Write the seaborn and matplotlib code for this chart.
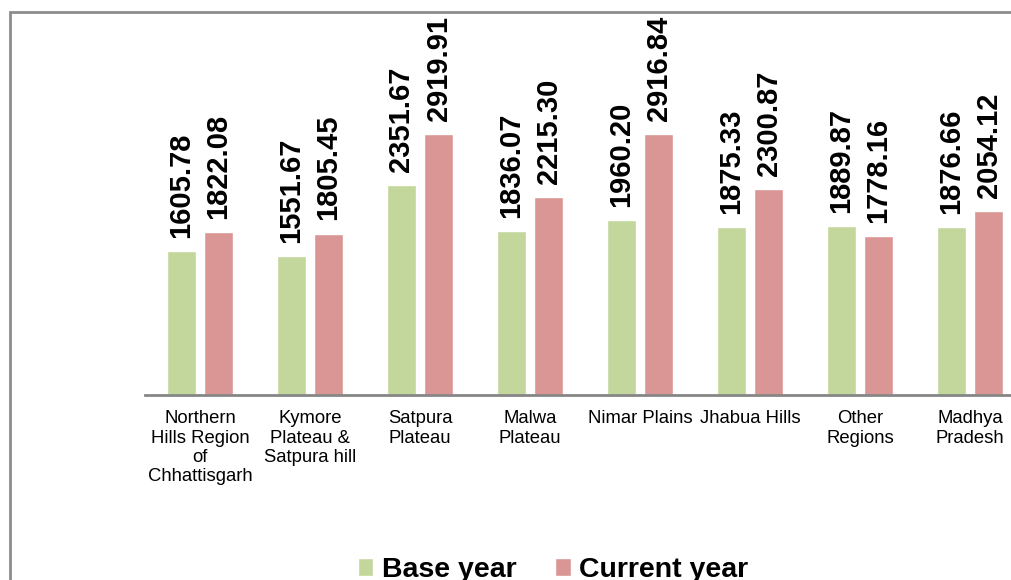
import matplotlib
matplotlib.use("Agg")
import matplotlib.pyplot as plt
from matplotlib.patches import Rectangle
import seaborn as sns
import pandas as pd

regions = [
    "Northern\nHills Region\nof\nChhattisgarh",
    "Kymore\nPlateau &\nSatpura hill",
    "Satpura\nPlateau",
    "Malwa\nPlateau",
    "Nimar Plains",
    "Jhabua Hills",
    "Other\nRegions",
    "Madhya\nPradesh",
]
base_year = [1605.78, 1551.67, 2351.67, 1836.07, 1960.20, 1875.33, 1889.87, 1876.66]
current_year = [1822.08, 1805.45, 2919.91, 2215.30, 2916.84, 2300.87, 1778.16, 2054.12]
series_names = ["Base year", "Current year"]
colors = ["#c3d69b", "#d99694"]

df = pd.DataFrame({
    "Region": regions * 2,
    "Series": [series_names[0]] * len(regions) + [series_names[1]] * len(regions),
    "Value": base_year + current_year,
})

sns.set_theme(style="white")
plt.rcParams["font.family"] = ["Liberation Sans", "DejaVu Sans"]
plt.rcParams["text.color"] = "black"

fig = plt.figure(figsize=(10.11, 5.8), dpi=100)
ax = fig.add_axes([145 / 1011, 1 - 395 / 580, 880 / 1011, 350 / 580])

sns.barplot(data=df, x="Region", y="Value", hue="Series", order=regions,
            hue_order=series_names, palette=colors, width=0.673, gap=0.214,
            saturation=1, ax=ax, legend=True)

for container in ax.containers:
    ax.bar_label(container, fmt="%.2f", rotation=90, padding=9.5,
                 fontsize=21, fontweight="bold", color="black")

ax.set_xlim(-0.5, 7.5)
ax.set_ylim(0, 3915)
ax.set_xlabel("")
ax.set_ylabel("")
ax.set_yticks([])
for side in ["left", "right", "top"]:
    ax.spines[side].set_visible(False)
ax.spines["bottom"].set_color("#868686")
ax.spines["bottom"].set_linewidth(2)
ax.tick_params(axis="x", length=0, pad=11)
for lbl in ax.get_xticklabels():
    lbl.set_fontsize(13.3)
    lbl.set_linespacing(1.18)
    lbl.set_color("black")

handles, labels = ax.get_legend_handles_labels()
ax.get_legend().remove()
leg = fig.legend(handles, labels, loc="center", bbox_to_anchor=(553 / 1011, 1 - 570 / 580),
                 ncol=2, frameon=False, prop={"size": 20.5, "weight": "bold"},
                 handlelength=0.55, handleheight=0.55, handletextpad=0.3, columnspacing=1.35)
for t in leg.get_texts():
    t.set_color("black")

fig.patches.append(Rectangle((10 / 1011, -0.1), 1.2, 1.1 - 12 / 580,
                             transform=fig.transFigure, fill=False,
                             edgecolor="#8c8c8c", linewidth=2, zorder=0))

fig.savefig("out.png", dpi=100)
